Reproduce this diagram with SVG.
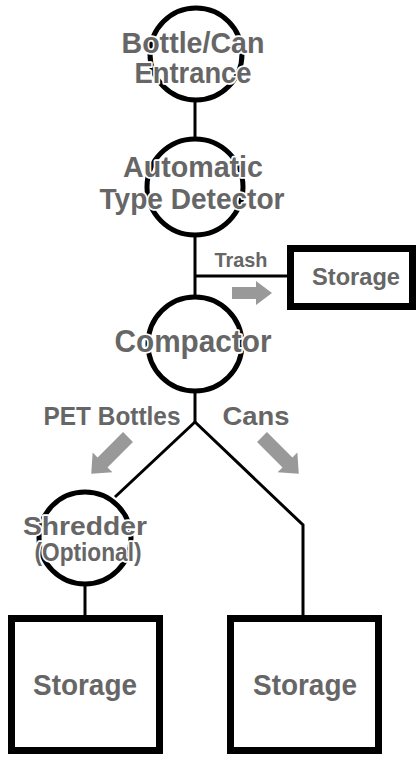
<svg xmlns="http://www.w3.org/2000/svg" width="419" height="758" viewBox="0 0 419 758">
<style>
.c{fill:none;stroke:#000;stroke-width:5}
.b{fill:#fff;stroke:#000;stroke-width:7}
.l{fill:none;stroke:#000;stroke-width:3}
.t{font-family:"Liberation Sans",Arial,sans-serif;font-weight:bold;fill:#666;text-anchor:middle;stroke:#fff;stroke-width:3.5;paint-order:stroke;stroke-linejoin:round}
.a{fill:#999}
</style>
<rect width="419" height="758" fill="#fff"/>
<g id="connectors">
<line class="l" x1="195" y1="100" x2="195" y2="139"/>
<line class="l" x1="195" y1="235" x2="195" y2="297"/>
<line class="l" x1="195" y1="276" x2="288" y2="276"/>
<line class="l" x1="195" y1="391" x2="195" y2="422"/>
<polyline class="l" points="115,497 195,422 303,525 303,615"/>
<line class="l" x1="85" y1="585" x2="85" y2="615"/>
<polygon class="a" points="232,287 256,287 256,281 272,293 256,305 256,299 232,299"/>
<polygon class="a" transform="translate(128,437) rotate(135)" points="0,-7 36,-7 36,-14 52,0 36,14 36,7 0,7"/>
<polygon class="a" transform="translate(262,437) rotate(45)" points="0,-7 36,-7 36,-14 52,0 36,14 36,7 0,7"/>
</g>
<g id="entrance">
<circle class="c" cx="196" cy="54" r="46"/>
<text class="t" x="193" y="53" font-size="30" textLength="143" lengthAdjust="spacingAndGlyphs">Bottle/Can</text>
<text class="t" x="193" y="83" font-size="30" textLength="117" lengthAdjust="spacingAndGlyphs">Entrance</text>
</g>
<g id="detector">
<circle class="c" cx="195" cy="187" r="48"/>
<text class="t" x="193" y="177" font-size="30" textLength="140" lengthAdjust="spacingAndGlyphs">Automatic</text>
<text class="t" x="192" y="209" font-size="30" textLength="185" lengthAdjust="spacingAndGlyphs">Type Detector</text>
</g>
<g id="trash-label">
<text class="t" x="241" y="267" font-size="21" textLength="53" lengthAdjust="spacingAndGlyphs">Trash</text>
</g>
<g id="storage-trash">
<rect class="b" x="290.5" y="248.5" width="122" height="58"/>
<text class="t" x="356" y="285" font-size="24" textLength="88" lengthAdjust="spacingAndGlyphs">Storage</text>
</g>
<g id="compactor">
<circle class="c" cx="195" cy="344" r="47"/>
<text class="t" x="193" y="352" font-size="31" textLength="157" lengthAdjust="spacingAndGlyphs">Compactor</text>
</g>
<g id="pet-label">
<text class="t" x="112" y="425" font-size="26" textLength="137" lengthAdjust="spacingAndGlyphs">PET Bottles</text>
</g>
<g id="cans-label">
<text class="t" x="256" y="425" font-size="26" textLength="67" lengthAdjust="spacingAndGlyphs">Cans</text>
</g>
<g id="shredder">
<circle class="c" cx="85" cy="538" r="46"/>
<text class="t" x="85" y="535" font-size="26" textLength="124" lengthAdjust="spacingAndGlyphs">Shredder</text>
<text class="t" x="88" y="561" font-size="25" textLength="107" lengthAdjust="spacingAndGlyphs">(Optional)</text>
</g>
<g id="storage-pet">
<rect class="b" x="11.5" y="618.5" width="148" height="132"/>
<text class="t" x="85" y="695" font-size="30" textLength="104" lengthAdjust="spacingAndGlyphs">Storage</text>
</g>
<g id="storage-cans">
<rect class="b" x="230.5" y="618.5" width="148" height="132"/>
<text class="t" x="305" y="695" font-size="30" textLength="104" lengthAdjust="spacingAndGlyphs">Storage</text>
</g>
</svg>
